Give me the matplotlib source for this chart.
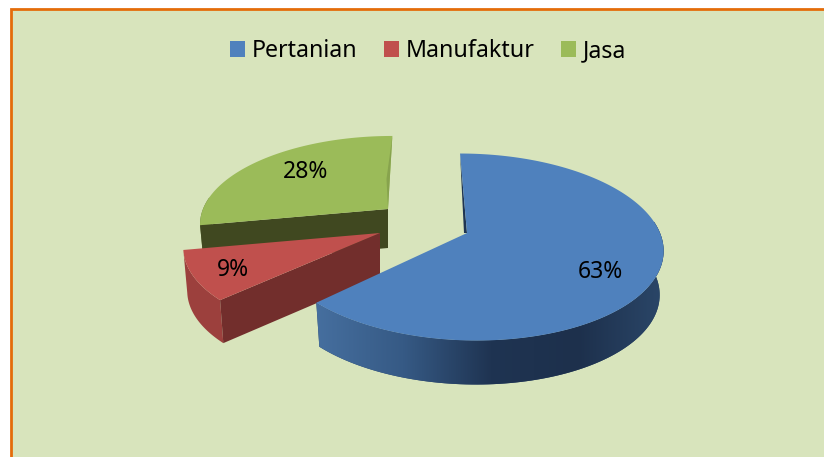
import numpy as np
import matplotlib
matplotlib.use('Agg')
import matplotlib.pyplot as plt
from matplotlib.colors import LinearSegmentedColormap
from matplotlib.patches import Patch, Polygon, Rectangle

plt.rcParams['font.family'] = ['Noto Sans', 'DejaVu Sans']

# Data
categories = ['Pertanian', 'Manufaktur', 'Jasa']
values = [63, 9, 28]

# Slice colours: top face, cut wall, outer wall
top_colors = ['#4f81bd', '#c0504d', '#9bbb59']
cut_colors = ['#1f3552', '#722e2c', '#404820']
outer_colors = ['#2a4466', '#9c403d', '#5f7336']

# Layout of the exploded slices, in pixels of the picture
centre_x = [467, 380, 388]
centre_y = [233, 233, 209]
radius_x = [193, 194, 185]
radius_y = [91.4, 88, 84]
lean = [8, -3, -5]
depth = [44, 43, 39]
label_xy = [(600, 272), (233, 270), (306, 172)]

PERSPECTIVE = 0.15
START_ANGLE = 90
BOTTOM_SCALE = 0.98


def project(i, theta):
    # circle on the pie plane -> picture, nearer points come out bigger
    u, v = np.cos(theta), np.sin(theta)
    den = 1 + PERSPECTIVE * v
    return (centre_x[i] + (radius_x[i] * u - lean[i] * v) / den,
            centre_y[i] - radius_y[i] * v / den)


def lower(i, x, y):
    return centre_x[i] + (x - centre_x[i]) * BOTTOM_SCALE, y + depth[i]


fig = plt.figure(figsize=(8.24, 4.57), dpi=100)
fig.patch.set_facecolor('white')
ax = fig.add_axes([0, 0, 1, 1])
ax.set_xlim(0, 824)
ax.set_ylim(457, 0)
ax.axis('off')

# Chart area, only the left and top border fall inside the picture
ax.add_patch(Rectangle((11, 9), 830, 470, facecolor='#d8e4bc',
                       edgecolor='#e46c0a', lw=2, zorder=0))

# Slice angles from the values, clockwise from the top
fractions = np.array(values) / sum(values)
ends = START_ANGLE - 360 * np.cumsum(fractions)
starts = np.r_[START_ANGLE, ends[:-1]]

# Green at the back, then red, blue in front
for z, i in enumerate([2, 1, 0]):
    base = 2 + z * 4
    theta = np.radians(np.linspace(starts[i], ends[i], 160))
    xt, yt = project(i, theta)
    cx, cy = centre_x[i], centre_y[i]

    # Outer wall, only the front of the rim can be seen
    front = np.sin(theta) < 0.15
    if front.any():
        xf, yf = xt[front], yt[front]
        xb, yb = lower(i, xf, yf)
        outer = np.c_[np.r_[xf, xb[::-1]], np.r_[yf, yb[::-1]]]
        wall = Polygon(outer, facecolor=outer_colors[i], edgecolor='none', zorder=base)
        ax.add_patch(wall)
    if i == 0:
        # Blue wall is shaded from the left corner to the right side
        cmap = LinearSegmentedColormap.from_list(
            'wall', ['#466f9f', '#365a85', '#1f3452', '#1d304c', '#2b4769'])
        img = ax.imshow(np.linspace(0, 1, 256).reshape(1, -1), cmap=cmap,
                        extent=(315, 666, 457, 0), aspect='auto', zorder=base + 0.5)
        img.set_clip_path(wall)
        ax.set_xlim(0, 824)
        ax.set_ylim(457, 0)

    # Cut walls
    if i == 0:
        # only a thin sliver of it shows beside the back corner
        ax.add_patch(Polygon([(xt[0], yt[0]), (cx, cy), (cx - 3, cy)],
                             facecolor=cut_colors[i], edgecolor='none', zorder=base + 1))
    else:
        ax.add_patch(Polygon([(xt[0], yt[0]), (cx, cy), lower(i, cx, cy), lower(i, xt[0], yt[0])],
                             facecolor=cut_colors[i], edgecolor='none', zorder=base + 1))
    if i == 2:
        ax.add_patch(Polygon([(xt[-1], yt[-1]), (cx, cy), (cx - 1.5, cy - 30)],
                             facecolor='#87a34d', edgecolor='none', zorder=base + 3))

    # Top face
    face = np.c_[np.r_[cx, xt], np.r_[cy, yt]]
    ax.add_patch(Polygon(face, facecolor=top_colors[i], edgecolor='none', zorder=base + 2))

    ax.text(*label_xy[i], f'{values[i]}%', ha='center', va='center',
            fontsize=16.5, color='black', zorder=30)

handles = [Patch(facecolor=c, edgecolor='none') for c in top_colors]
ax.legend(handles, categories, loc='center', bbox_to_anchor=(428 / 824, 1 - 51 / 457),
          bbox_transform=ax.transAxes, ncol=3, frameon=False, fontsize=16.7,
          handlelength=0.65, handleheight=0.65, handletextpad=0.3, columnspacing=1.12,
          labelcolor='black', borderpad=0)

fig.savefig('out.png', dpi=100, facecolor=fig.get_facecolor())
